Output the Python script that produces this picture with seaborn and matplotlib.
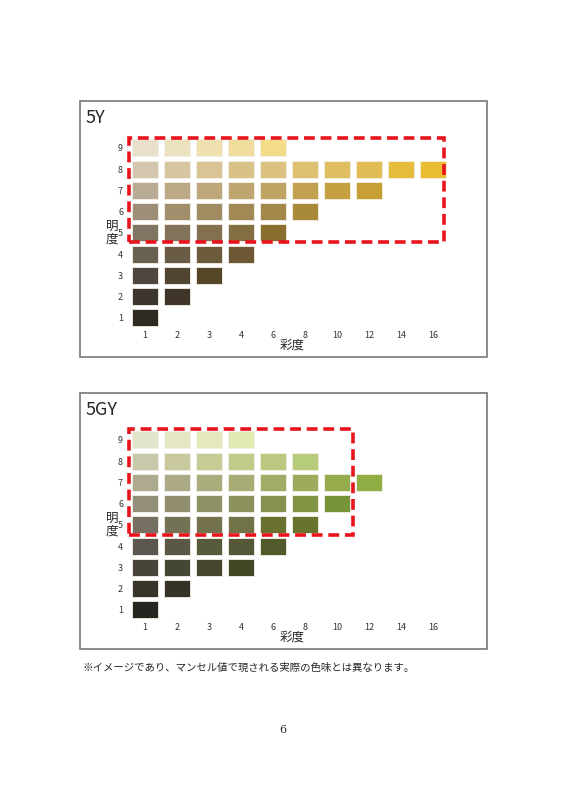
import matplotlib
matplotlib.use("Agg")
import matplotlib.pyplot as plt
import seaborn as sns
import pandas as pd
from matplotlib.patches import Rectangle

sns.set_style("white")
plt.rcParams['font.family'] = ['Noto Sans CJK JP', 'DejaVu Sans']

chroma_labels = ["1", "2", "3", "4", "6", "8", "10", "12", "14", "16"]
values = [1, 2, 3, 4, 5, 6, 7, 8, 9]

y5_colors = {
    9: ["#e8e0cc", "#ece2c0", "#efe0b0", "#f0dc9c", "#f3dc88"],
    8: ["#d4c6ae", "#d6c6a0", "#d8c494", "#d9c288", "#dbc27e", "#ddc070", "#dfbe62", "#e1bc54", "#e6bc3c", "#eabc30"],
    7: ["#baab94", "#bca986", "#bea77a", "#bfa570", "#c0a464", "#c2a250", "#c4a040", "#c6a034"],
    6: ["#9e8e78", "#a08e6c", "#a08c60", "#a28a56", "#a4884a", "#a88a38"],
    5: ["#807462", "#82725a", "#82704e", "#846e44", "#8a6e30"],
    4: ["#686050", "#6a5c44", "#6c5a3c", "#6e5834"],
    3: ["#504640", "#524432", "#564628"],
    2: ["#3c3530", "#3e3528"],
    1: ["#2e2a22"],
}
gy5_colors = {
    9: ["#e2e4cc", "#e4e6c4", "#e4e8bc", "#e2eab4"],
    8: ["#c8c8aa", "#c8c89c", "#c6ca94", "#c2ca8a", "#bcc880", "#b6cc78"],
    7: ["#aeaa90", "#acaa86", "#aaac7e", "#a8ac74", "#a2ac66", "#9cac5a", "#96ac4c", "#90ae44"],
    6: ["#928e7a", "#908e6e", "#8e9066", "#8c905c", "#889050", "#809444", "#789438"],
    5: ["#767062", "#747254", "#74724e", "#727248", "#6a7030", "#68742e"],
    4: ["#5c5850", "#5a5844", "#585a3c", "#56583a", "#525a2c"],
    3: ["#48443a", "#464634", "#464630", "#404826"],
    2: ["#38342a", "#363226"],
    1: ["#262620"],
}
panels = [("5Y", y5_colors, (-0.5, 9.34, 4.58, 9.47)),
          ("5GY", gy5_colors, (-0.5, 6.5, 4.55, 9.5))]

W, H = 566, 800
fig = plt.figure(figsize=(W/100, H/100), dpi=100)

for k, (title, cmap, box) in enumerate(panels):
    off = 292 * k
    # frame
    fig.add_artist(Rectangle((80/W, 1-(357+off)/H), 407/W, 256/H, transform=fig.transFigure,
                             fill=False, edgecolor="#777777", linewidth=1.2))
    fig.text(86/W, 1-(118+off)/H, title, fontsize=13, va="center", ha="left")
    top, bot = 135.25 + off, 328.6 + off
    ax = fig.add_axes([125.8/W, 1-bot/H, 326.4/W, (bot-top)/H])
    rows = [(i, v, c) for v in values for i, c in enumerate(cmap[v])]
    df = pd.DataFrame(rows, columns=["ci", "val", "color"])
    ax.bar(df["ci"], 0.8, bottom=df["val"]-0.4, width=0.81, color=df["color"],
           edgecolor="#f4f0e6", linewidth=0.6)
    x0, x1, y0, y1 = box
    ax.add_patch(Rectangle((x0, y0), x1-x0, y1-y0, fill=False, edgecolor="#e8141c",
                           linewidth=2.6, linestyle=(0, (3, 1.6)), zorder=5, clip_on=False))
    ax.set_xlim(-0.6, 9.6)
    ax.set_ylim(0.5, 9.6)
    ax.set_xticks(range(len(chroma_labels)))
    ax.set_xticklabels(chroma_labels, fontsize=6.5, color="#333333")
    ax.set_yticks(values)
    ax.set_yticklabels([str(v) for v in values], fontsize=6.5, color="#333333")
    ax.tick_params(length=0, pad=2)
    for s in ax.spines.values():
        s.set_visible(False)
    ax.patch.set_alpha(0)
    fig.text(112/W, 1-(233+off)/H, "明\n度", fontsize=9, ha="center", va="center", linespacing=0.95)
    fig.text(292/W, 1-(345+off)/H, "彩度", fontsize=9, ha="center", va="center")

fig.text(82/W, 1-668/H, "※イメージであり、マンセル値で現される実際の色味とは異なります。", fontsize=7.5, va="center")
fig.text(283/W, 1-730/H, "6", fontsize=8, ha="center", va="center", family=["DejaVu Serif"])
fig.savefig("out.png", dpi=100)
